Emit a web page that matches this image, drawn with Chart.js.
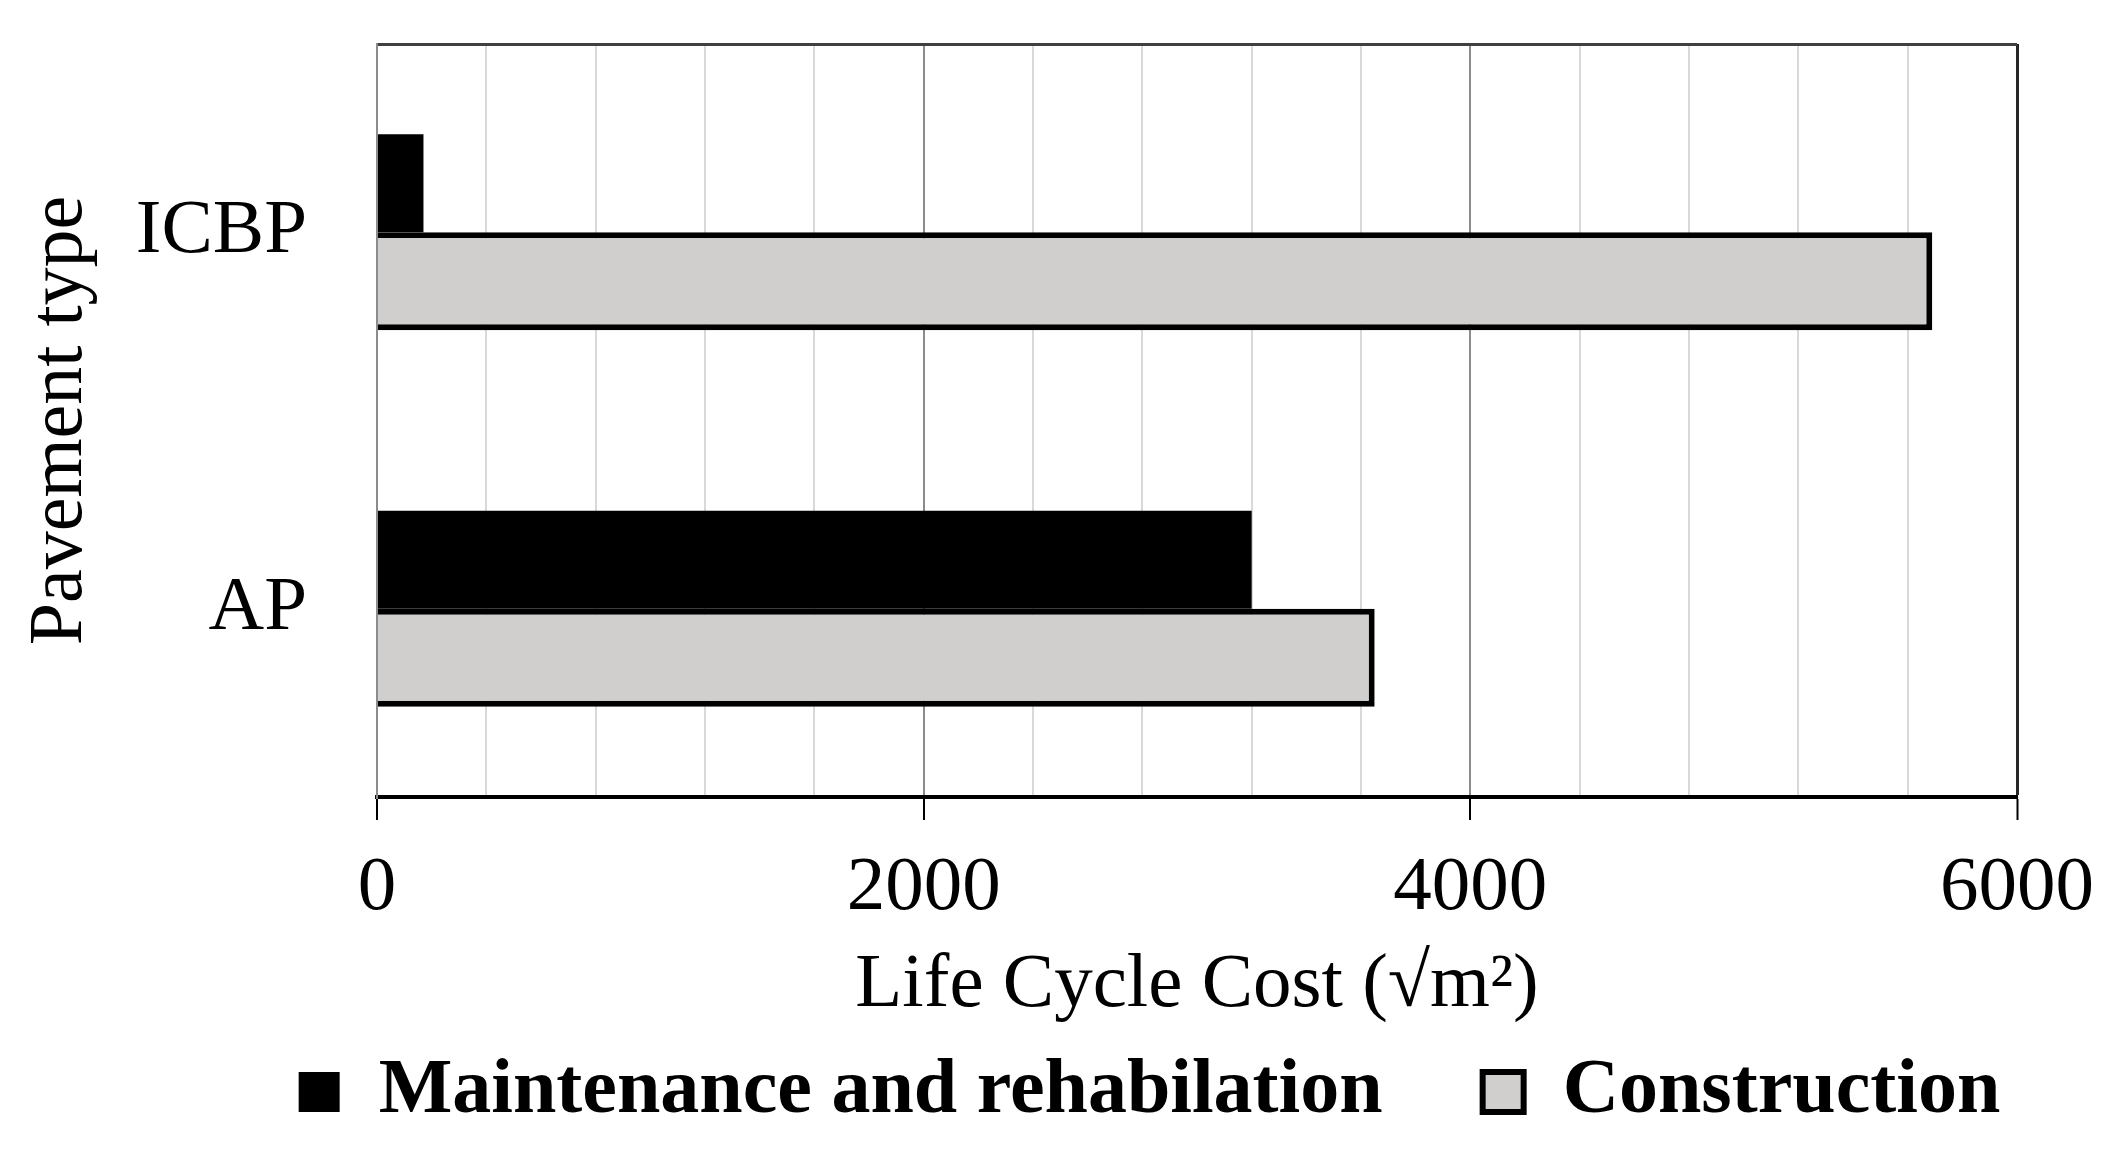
<!DOCTYPE html>
<html>
<head>
<meta charset="utf-8">
<script src="https://cdn.jsdelivr.net/npm/chart.js@4.4.1/dist/chart.umd.min.js"></script>
<style>
  html, body { margin: 0; padding: 0; background: #fff; }
  #wrap { width: 2122px; height: 1167px; position: relative; }
</style>
</head>
<body>
<div id="wrap"><canvas id="lcc"></canvas></div>
<script>
// data
const pavementTypes = ["ICBP", "AP"];
const maintenanceCost = [170, 3200];
const constructionCost = [5690, 3650];
const seriesNames = ["Maintenance and rehabilation", "Construction"];
const xMin = 0;
const xMax = 6000;
const xStep = 400;
const xLabelEvery = 2000;

const serif = "'Liberation Serif', 'Times New Roman', serif";

// legend sits a bit right of the canvas centre in the original
const legendShift = {
  id: "legendShift",
  afterLayout(chart) {
    chart.legend.left += 141;
    chart.legend.right += 141;
  }
};

const ctx = document.getElementById("lcc").getContext("2d");

new Chart(ctx, {
  type: "bar",
  data: {
    labels: pavementTypes,
    datasets: [
      {
        label: seriesNames[0],
        data: maintenanceCost,
        backgroundColor: "#000000",
        borderColor: "#000000",
        borderWidth: 0
      },
      {
        label: seriesNames[1],
        data: constructionCost,
        backgroundColor: "#d0cfcd",
        borderColor: "#000000",
        borderWidth: 6
      }
    ]
  },
  options: {
    indexAxis: "y",
    responsive: true,
    maintainAspectRatio: false,
    devicePixelRatio: 1,
    animation: false,
    events: [],
    categoryPercentage: 0.52,
    barPercentage: 1.0,
    layout: {
      padding: { top: 44, right: 105, bottom: 26, left: 0 }
    },
    plugins: {
      tooltip: { enabled: false },
      legend: {
        position: "bottom",
        labels: {
          color: "#000",
          boxWidth: 41,
          boxHeight: 40,
          padding: 100,
          font: { family: serif, size: 78, weight: "bold" }
        }
      }
    },
    scales: {
      x: {
        type: "linear",
        min: xMin,
        max: xMax,
        afterFit: (scale) => { scale.height = 156; },
        ticks: {
          stepSize: xStep,
          autoSkip: false,
          maxRotation: 0,
          minRotation: 0,
          padding: 23,
          color: "#000",
          font: { family: serif, size: 77 },
          callback: (v) => (v % xLabelEvery === 0 ? String(v) : "")
        },
        grid: {
          drawTicks: true,
          tickLength: 23,
          tickWidth: 2,
          tickColor: (c) => (c.tick && c.tick.value % xLabelEvery === 0 ? "#000" : "rgba(0,0,0,0)"),
          color: (c) => {
            const v = c.tick ? c.tick.value : 0;
            if (v === xMax) return "#262626";
            if (v % xLabelEvery === 0) return "#8c8c8c";
            return "#d9d9d9";
          },
          lineWidth: (c) => (c.tick && c.tick.value === xMax ? 3 : 2)
        },
        border: { color: "#000", width: 4 },
        title: {
          display: true,
          text: "Life Cycle Cost (√m²)",
          color: "#000",
          font: { family: serif, size: 77 },
          padding: { top: 0, bottom: -79 }
        }
      },
      y: {
        afterFit: (scale) => { scale.width = 377; },
        ticks: {
          padding: 0,
          color: "#000",
          font: { family: serif, size: 77, lineHeight: 1.0 }
        },
        grid: {
          drawTicks: true,
          tickLength: 70,
          tickColor: "rgba(0,0,0,0)",
          color: (c) => (c.index === 0 ? "#404040" : "rgba(0,0,0,0)"),
          lineWidth: 3
        },
        border: { color: "#8c8c8c", width: 2 },
        title: {
          display: true,
          text: "Pavement type",
          color: "#000",
          font: { family: serif, size: 76 },
          padding: { top: 15, bottom: 0 }
        }
      }
    }
  },
  plugins: [legendShift]
});
</script>
</body>
</html>
